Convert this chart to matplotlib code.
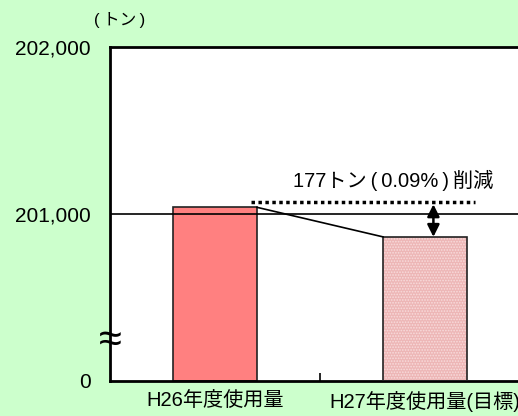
import matplotlib
matplotlib.use("Agg")
import matplotlib.pyplot as plt
import numpy as np

plt.rcParams["font.family"] = ["Liberation Sans", "Noto Sans CJK JP", "DejaVu Sans"]
plt.rcParams["hatch.linewidth"] = 0.8

# data (tons); axis is broken between 0 and 200,000
categories = ["H26年度使用量", "H27年度使用量(目標)"]
usage = [201040, 200863]
base = 200000
reduction_t = 177
reduction_pct = 0.09
yticks_val = [base, 201000, 202000]
yticks_lab = ["0", "201,000", "202,000"]

fig = plt.figure(figsize=(5.18, 4.16), dpi=100)
fig.patch.set_facecolor("#CCFFCC")
# axes runs past the right edge of the figure, like the original
ax = fig.add_axes([110 / 518, 35 / 416, 420 / 518, 334 / 416])
ax.set_facecolor("white")

x = np.arange(len(categories))
shown = [u - base for u in usage]
ax.bar(x[0], shown[0], width=0.4, color="#FF8080", edgecolor="#222222", linewidth=1.2)
ax.bar(x[1], shown[1], width=0.4, facecolor="#EDB6B6", edgecolor="#F8DCDC", linewidth=0,
       hatch="......", zorder=2)
ax.bar(x[1], shown[1], width=0.4, fill=False, edgecolor="#222222", linewidth=1.2, zorder=3)

ax.set_xlim(-0.5, 1.5)
ax.set_ylim(0, 2000)
ax.set_yticks([v - base for v in yticks_val])
ax.set_yticklabels(yticks_lab, fontsize=15)
ax.set_xticks([0.5], minor=False)
ax.set_xticklabels([""])
ax.tick_params(axis="x", direction="in", length=6, width=1.2)
ax.tick_params(axis="y", length=0, pad=14)
for i, c in enumerate(categories):
    ax.text(x[i], -0.03, c, transform=ax.get_xaxis_transform(), ha="center", va="top",
            fontsize=14.5)

for s in ["left", "bottom", "top"]:
    ax.spines[s].set_linewidth(2)
ax.spines["right"].set_visible(False)

# reference line at 201,000
ax.axhline(1000, color="black", lw=1.2, zorder=1)

# connector between bar tops
ax.plot([x[0] + 0.2, x[1] - 0.2], shown, color="black", lw=1.2, zorder=4)

# dotted guide above the first bar
ax.plot([x[0] + 0.17, x[1] + 0.24], [shown[0] + 30] * 2, color="black", lw=2.5,
        linestyle=(0, (1, 1)), zorder=4)

# double arrow
ax.annotate("", xy=(x[1] + 0.04, shown[1]), xytext=(x[1] + 0.04, shown[0] + 18),
            arrowprops=dict(arrowstyle="<|-|>", color="black", lw=1.8,
                            mutation_scale=18, shrinkA=0, shrinkB=0), zorder=5)

ts = "\u2009"
ax.text(0.85, shown[0] + 100, f"{reduction_t}トン{ts}({ts}{reduction_pct:.2f}%{ts}){ts}削減",
        ha="center", va="bottom", fontsize=14.5)

# axis break mark
ax.text(0, 240, "≈", transform=ax.get_yaxis_transform(), ha="center", va="center",
        fontsize=30, clip_on=False)

fig.text(120 / 518, 1 - 20 / 416, f"({ts}トン{ts})", ha="center", va="center", fontsize=12)

fig.savefig("out.png", dpi=100, facecolor=fig.get_facecolor())
